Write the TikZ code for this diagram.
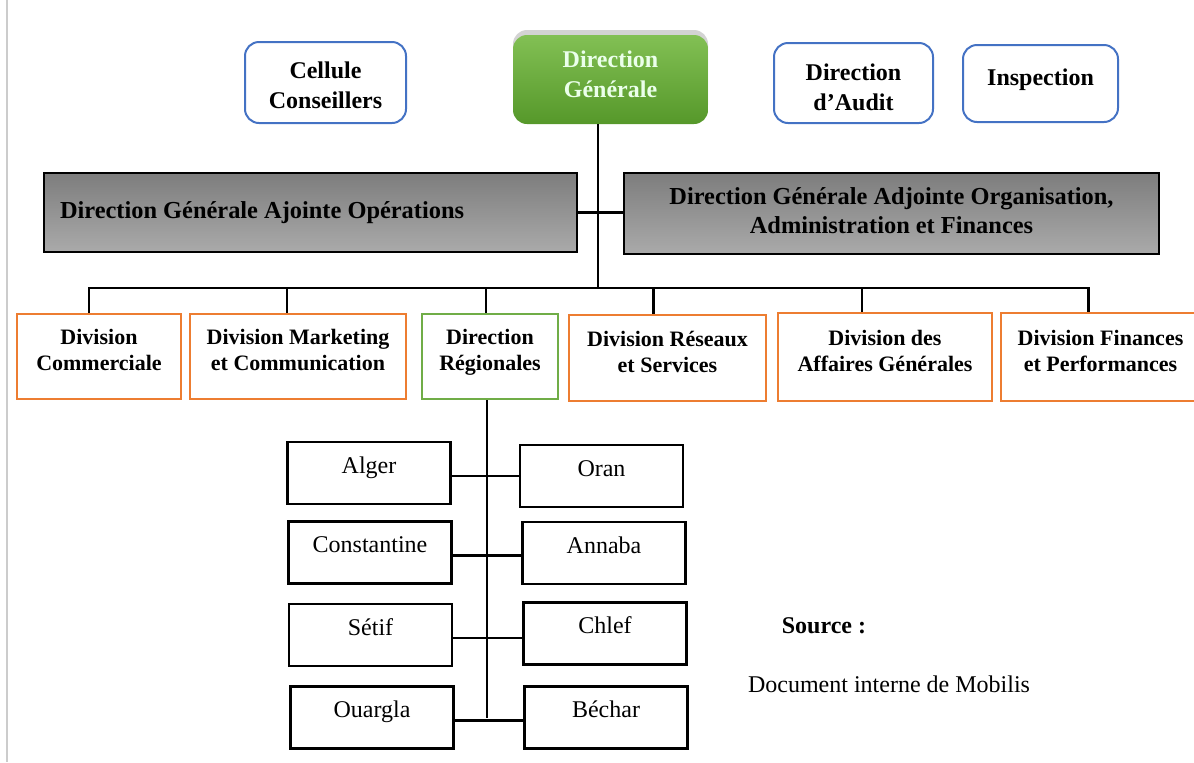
\documentclass[tikz,border=0pt]{standalone}
\usepackage{fontspec}
\setmainfont{Liberation Serif}
\usetikzlibrary{shadows}
\definecolor{bleucadre}{RGB}{68,114,196}
\definecolor{orangediv}{RGB}{237,125,49}
\definecolor{vertdiv}{RGB}{112,173,71}
\definecolor{verthaut}{RGB}{130,192,84}
\definecolor{vertbas}{RGB}{86,152,42}
\definecolor{grishaut}{RGB}{125,125,125}
\definecolor{grisbas}{RGB}{170,170,170}
% deux lignes centrees, remontees de #1
\newcommand\deuxlignes[3]{\raisebox{#1}[\height][\depth]{\begin{tabular}{@{}c@{}}#2\\#3\end{tabular}}}
\tikzset{
  cellbox/.style={draw=bleucadre, line width=1pt, rounded corners=7pt, font=\bfseries\fontsize{12}{15}\selectfont},
  dgbox/.style={top color=verthaut, bottom color=vertbas, draw=none, rounded corners=7pt, text=white!92!green, font=\bfseries\fontsize{12}{15}\selectfont, drop shadow={shadow xshift=0pt, shadow yshift=2.5pt, opacity=.35}},
  adjbox/.style={draw=black, line width=.8pt, top color=grishaut, bottom color=grisbas, font=\bfseries\fontsize{12.2}{14.5}\selectfont},
  divbox/.style={draw=orangediv, line width=1.3pt, font=\bfseries\fontsize{11}{13}\selectfont},
  villebox/.style={draw=black, line width=1.3pt, minimum width=81.5pt, minimum height=31pt, text height=8pt, text depth=8pt, font=\fontsize{12}{14}\selectfont},
  lien/.style={line width=1.25pt}
}
\begin{document}
\begin{tikzpicture}[x=0.5pt,y=-0.5pt]
    \useasboundingbox (0,0) rectangle (1194,762);
    \draw[black!20, line width=.6pt] (7,0) -- (7,762);
    % direction et cellules
    \node[cellbox, minimum width=80.5pt, minimum height=40.5pt] (cellule) at (325.5,82.5) {\deuxlignes{-2.5pt}{Cellule}{Conseillers}};
    \node[dgbox, minimum width=97.5pt, minimum height=44.5pt] (dg) at (610.5,79.5) {\deuxlignes{1.5pt}{Direction}{Générale}};
    \node[cellbox, minimum width=79.5pt, minimum height=40pt] (audit) at (853.5,83) {\deuxlignes{-3pt}{Direction}{d’Audit}};
    \node[cellbox, minimum width=77.5pt, minimum height=38.5pt, text height=9pt, text depth=7pt] (inspection) at (1040.5,83.5) {Inspection};
    % directions adjointes
    \node[adjbox, inner xsep=8pt, minimum height=39.5pt] (dgo) at (310.5,212.5) {\makebox[250.5pt][l]{Direction Générale Ajointe Opérations}};
    \node[adjbox, minimum width=267.5pt, minimum height=40.5pt] (dgaf) at (891.5,213.5) {\deuxlignes{0pt}{Direction Générale Adjointe Organisation,}{Administration et Finances}};
    % divisions
    \node[divbox, minimum width=82pt, minimum height=42.5pt] (dc) at (99,356.5) {\deuxlignes{2pt}{Division}{Commerciale}};
    \node[divbox, minimum width=108pt, minimum height=42.5pt] (dmc) at (298,356.5) {\deuxlignes{2pt}{Division Marketing}{et Communication}};
    \node[divbox, draw=vertdiv, minimum width=68pt, minimum height=42.5pt] (dr) at (490,356.5) {\deuxlignes{2pt}{Direction}{Régionales}};
    \node[divbox, minimum width=98.5pt, minimum height=43pt] (drs) at (667.5,358) {\deuxlignes{2pt}{Division Réseaux}{et Services}};
    \node[divbox, minimum width=107pt, minimum height=44pt] (dag) at (885,357) {\deuxlignes{2pt}{Division des}{Affaires Générales}};
    \node[divbox, minimum width=99.5pt, minimum height=44pt] (dff) at (1100.5,357) {\deuxlignes{2pt}{Division Finances}{et Performances}};
    % directions regionales
    \node[villebox] (alger) at (369,473) {Alger};
    \node[villebox] (oran) at (601.5,476) {Oran};
    \node[villebox] (constantine) at (370,552.5) {Constantine};
    \node[villebox] (annaba) at (604,553) {Annaba};
    \node[villebox] (setif) at (370.5,635) {Sétif};
    \node[villebox] (chlef) at (605,633.5) {Chlef};
    \node[villebox] (ouargla) at (372,717.5) {Ouargla};
    \node[villebox] (bechar) at (606,717.5) {Béchar};
    % source
    \node[font=\bfseries\fontsize{12}{14}\selectfont] (source) at (824,626) {Source :};
    \node[font=\fontsize{12}{14}\selectfont] (document) at (889,684) {Document interne de Mobilis};
    % liaisons
    \coordinate (bus) at (598,288);
    \draw[lien] (dg.south -| bus) -- (bus);
    \draw[lien] (dgo.east) -- (dgo.east -| dgaf.west);
    \foreach \n/\d in {dc/-5,dmc/-5.5,dr/-2,drs/-7,dag/-11.5,dff/-6}
        \draw[lien] (bus) -| ([xshift=\d pt]\n.north);
    \coordinate (rbas) at (487,718);
    \draw[lien] (dr.south -| rbas) -- (rbas);
    \foreach \g/\dr in {alger/oran,constantine/annaba,setif/chlef,ouargla/bechar}
        \draw[lien] ([yshift=-1.5pt]\g.east) -- ([yshift=-1.5pt]\g.east -| \dr.west);
\end{tikzpicture}
\end{document}
